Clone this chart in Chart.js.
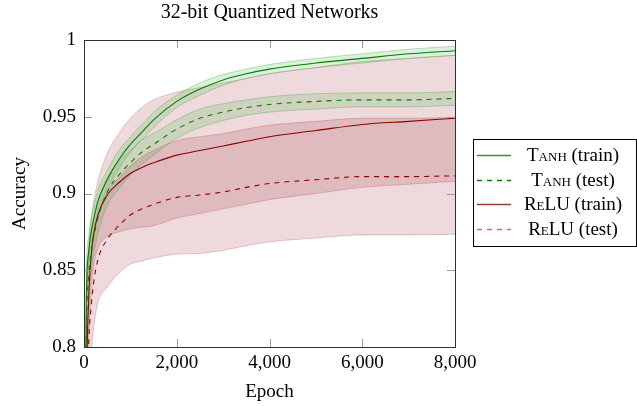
<!DOCTYPE html>
<html>
<head>
<meta charset="utf-8">
<title>32-bit Quantized Networks</title>
<script src="https://cdn.jsdelivr.net/npm/chart.js@4.4.1/dist/chart.umd.min.js"></script>
<style>
  html, body { margin: 0; padding: 0; background: #fff; }
</style>
</head>
<body>
<canvas id="acc" width="637" height="406"></canvas>
<script>
// training curves, mean accuracy and half-width of the shaded band
const epochs = [0, 50, 100, 150, 200, 300, 500, 750, 1000, 1250, 1500, 2000, 2500, 3000, 3500, 4000, 5000, 6000, 7000, 8000];

const tanhTrain   = [0.62, 0.83, 0.862, 0.874, 0.882, 0.895, 0.909, 0.922, 0.932, 0.940, 0.948, 0.960, 0.968, 0.974, 0.978, 0.981, 0.985, 0.988, 0.991, 0.993];
const tanhTrainSd = [0.03, 0.015, 0.010, 0.009, 0.008, 0.007, 0.006, 0.006, 0.005, 0.005, 0.005, 0.004, 0.004, 0.0035, 0.003, 0.003, 0.003, 0.003, 0.003, 0.003];

const tanhTest    = [0.55, 0.80, 0.845, 0.860, 0.870, 0.884, 0.901, 0.912, 0.920, 0.927, 0.932, 0.942, 0.949, 0.953, 0.956, 0.958, 0.960, 0.961, 0.961, 0.962];
const tanhTestSd  = [0.03, 0.02, 0.014, 0.012, 0.011, 0.010, 0.009, 0.009, 0.008, 0.008, 0.007, 0.006, 0.006, 0.0055, 0.005, 0.005, 0.005, 0.0045, 0.0045, 0.0045];

const reluTrain   = [0.50, 0.76, 0.830, 0.858, 0.872, 0.886, 0.899, 0.907, 0.913, 0.917, 0.920, 0.925, 0.928, 0.931, 0.934, 0.937, 0.941, 0.945, 0.947, 0.949];
const reluTrainSd = [0.05, 0.04, 0.030, 0.024, 0.021, 0.022, 0.027, 0.032, 0.036, 0.039, 0.041, 0.041, 0.041, 0.041, 0.041, 0.041, 0.041, 0.041, 0.041, 0.041];

const reluTest    = [0.45, 0.72, 0.800, 0.825, 0.840, 0.857, 0.870, 0.879, 0.886, 0.890, 0.893, 0.8975, 0.899, 0.901, 0.904, 0.9065, 0.909, 0.911, 0.911, 0.9115];
const reluTestSd  = [0.05, 0.04, 0.035, 0.032, 0.030, 0.028, 0.031, 0.031, 0.032, 0.034, 0.035, 0.037, 0.038, 0.038, 0.038, 0.038, 0.038, 0.038, 0.038, 0.038];

const xTicks = [0, 2000, 4000, 6000, 8000];
const yTicks = [0.8, 0.85, 0.9, 0.95, 1];

const chartTitle = '32-bit Quantized Networks';
const legendNames = ['Tanh', 'Tanh', 'ReLU', 'ReLU'];
const legendTags  = ['(train)', '(test)', '(train)', '(test)'];

const GREEN = '#008000';
const RED = '#8f0000';
const SERIF = '"Liberation Serif", "DejaVu Serif", serif';

const pts = ys => epochs.map((e, i) => ({ x: e, y: ys[i] }));
const shift = (ys, sd, k) => ys.map((v, i) => v + k * sd[i]);

function line(label, ys, color, dash) {
  return {
    label, data: pts(ys), borderColor: color, borderWidth: 1.1,
    borderDash: dash, pointRadius: 0, fill: false, order: 0,
    cubicInterpolationMode: 'monotone'
  };
}

// upper edge fills down to the following (lower edge) dataset
function band(ys, sd, edge, fillColor) {
  return [
    { label: '_up', data: pts(shift(ys, sd, 1)), borderColor: edge, borderWidth: 0.8,
      backgroundColor: fillColor, fill: '+1', pointRadius: 0, order: 1,
      cubicInterpolationMode: 'monotone' },
    { label: '_lo', data: pts(shift(ys, sd, -1)), borderColor: edge, borderWidth: 0.8,
      fill: false, pointRadius: 0, order: 1, cubicInterpolationMode: 'monotone' }
  ];
}

const datasets = [
  line('Tanh (train)', tanhTrain, GREEN, []),
  line('Tanh (test)', tanhTest, GREEN, [5, 5]),
  line('ReLU (train)', reluTrain, RED, []),
  line('ReLU (test)', reluTest, RED, [5, 5]),
  ...band(tanhTrain, tanhTrainSd, 'rgba(60,170,60,0.45)', 'rgba(40,170,40,0.16)'),
  ...band(tanhTest, tanhTestSd, 'rgba(60,170,60,0.45)', 'rgba(40,170,40,0.16)'),
  ...band(reluTrain, reluTrainSd, 'rgba(170,70,70,0.35)', 'rgba(140,10,20,0.15)'),
  ...band(reluTest, reluTestSd, 'rgba(170,70,70,0.35)', 'rgba(140,10,20,0.15)')
];

// pgfplots-like frame with inward ticks on all four sides, title over the plot
const frame = {
  id: 'frame',
  afterDatasetsDraw(chart) {
    const { ctx, chartArea: a, scales: { x, y } } = chart;
    const L = 8;
    ctx.save();
    ctx.strokeStyle = '#9a9a9a';
    ctx.lineWidth = 1;
    ctx.beginPath();
    x.ticks.forEach(t => {
      const px = Math.round(x.getPixelForValue(t.value)) + 0.5;
      ctx.moveTo(px, a.bottom); ctx.lineTo(px, a.bottom - L);
      ctx.moveTo(px, a.top); ctx.lineTo(px, a.top + L);
    });
    y.ticks.forEach(t => {
      const py = Math.round(y.getPixelForValue(t.value)) + 0.5;
      ctx.moveTo(a.left, py); ctx.lineTo(a.left + L, py);
      ctx.moveTo(a.right, py); ctx.lineTo(a.right - L, py);
    });
    ctx.stroke();
    ctx.strokeStyle = '#303030';
    ctx.strokeRect(Math.round(a.left) + 0.5, Math.round(a.top) + 0.5,
      Math.round(a.right - a.left), Math.round(a.bottom - a.top));

    ctx.fillStyle = '#000';
    ctx.font = '20px ' + SERIF;
    ctx.textAlign = 'center';
    ctx.textBaseline = 'alphabetic';
    ctx.fillText(chartTitle, (a.left + a.right) / 2, 18);
    ctx.restore();
  }
};

// legend box to the right, names in small caps
const legendBox = {
  id: 'legendBox',
  afterDraw(chart) {
    const { ctx } = chart;
    const box = { x: 473.5, y: 139.5, w: 163, h: 107 };
    const styles = [
      { color: '#2f962f', dash: [] },
      { color: GREEN, dash: [5, 5] },
      { color: '#9a3c3c', dash: [] },
      { color: '#c07474', dash: [5, 5] }
    ];
    ctx.save();
    ctx.fillStyle = '#fff';
    ctx.fillRect(box.x, box.y, box.w, box.h);
    ctx.strokeStyle = '#000';
    ctx.lineWidth = 1;
    ctx.strokeRect(box.x, box.y, box.w, box.h);
    ctx.textBaseline = 'middle';
    ctx.fillStyle = '#000';
    legendNames.forEach((name, i) => {
      const cy = Math.round(155 + i * 24.7) + 0.5;
      ctx.strokeStyle = styles[i].color;
      ctx.setLineDash(styles[i].dash);
      ctx.lineWidth = 1.3;
      ctx.beginPath();
      ctx.moveTo(477, cy); ctx.lineTo(511, cy);
      ctx.stroke();
      ctx.setLineDash([]);
      const capsFont = 'small-caps 19px ' + SERIF;
      const plainFont = '19px ' + SERIF;
      ctx.font = capsFont;
      const w1 = ctx.measureText(name).width;
      ctx.font = plainFont;
      const tag = ' ' + legendTags[i];
      const w2 = ctx.measureText(tag).width;
      const x0 = 573 - (w1 + w2) / 2;
      ctx.font = capsFont;
      ctx.fillText(name, x0, cy + 0.5);
      ctx.font = plainFont;
      ctx.fillText(tag, x0 + w1, cy + 0.5);
    });
    ctx.restore();
  }
};

Chart.defaults.color = '#000';
Chart.defaults.font.family = SERIF;

new Chart(document.getElementById('acc'), {
  type: 'line',
  data: { datasets },
  options: {
    responsive: false,
    animation: false,
    layout: { padding: { left: 0, right: 182, top: 40, bottom: 0 } },
    plugins: {
      legend: { display: false },
      tooltip: { enabled: false },
      title: { display: false }
    },
    scales: {
      x: {
        type: 'linear', min: 0, max: 8000,
        afterBuildTicks: s => { s.ticks = xTicks.map(v => ({ value: v })); },
        afterFit: s => { s.height = 59; },
        grid: { display: false, drawTicks: false },
        border: { display: false },
        ticks: {
          padding: 5, maxRotation: 0,
          font: { family: SERIF, size: 19 },
          callback: v => v.toLocaleString('en-US')
        },
        title: {
          display: true, text: 'Epoch',
          font: { family: SERIF, size: 19 },
          padding: { top: 0, bottom: 3 }
        }
      },
      y: {
        type: 'linear', min: 0.8, max: 1,
        afterBuildTicks: s => { s.ticks = yTicks.map(v => ({ value: v })); },
        afterFit: s => { s.width = 84; },
        grid: { display: false, drawTicks: false },
        border: { display: false },
        ticks: {
          padding: 8,
          font: { family: SERIF, size: 19 },
          callback: v => String(+v.toFixed(2))
        },
        title: {
          display: true, text: 'Accuracy',
          font: { family: SERIF, size: 19 },
          padding: { top: 9, bottom: 0 }
        }
      }
    }
  },
  plugins: [frame, legendBox]
});
</script>
</body>
</html>
